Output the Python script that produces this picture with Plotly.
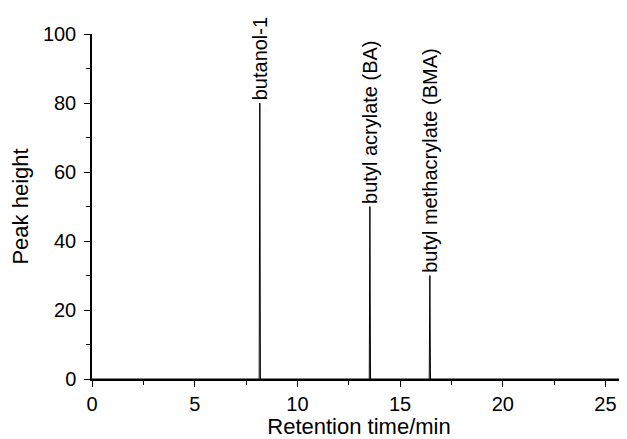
import plotly.graph_objects as go

# Chromatogram data (retention time in min, peak height)
peak_names = ["butanol-1", "butyl acrylate (BA)", "butyl methacrylate (BMA)"]
peak_times = [8.17, 13.53, 16.45]
peak_heights = [80, 50, 30]
half_width = 0.03
t_start, t_end = 0.0, 26.0
x_ticks = [0, 5, 10, 15, 20, 25]
y_ticks = [0, 20, 40, 60, 80, 100]

x_vals = [t_start]
y_vals = [0]
for t, h in zip(peak_times, peak_heights):
    x_vals += [t - half_width, t, t + half_width]
    y_vals += [0, h, 0]
x_vals.append(t_end)
y_vals.append(0)

fig = go.Figure()
fig.add_trace(go.Scatter(x=x_vals, y=y_vals, mode="lines",
                         line=dict(color="black", width=1), showlegend=False,
                         hoverinfo="skip"))

for name, t, h in zip(peak_names, peak_times, peak_heights):
    fig.add_annotation(x=t, y=h, text=name, textangle=-90, showarrow=False,
                       xanchor="center", yanchor="bottom", yshift=1,
                       font=dict(size=20, color="black"))

axis_common = dict(showline=True, linecolor="black", linewidth=1.5,
                   ticks="outside", ticklen=6, tickwidth=1.2, tickcolor="black",
                   showgrid=False, zeroline=False,
                   tickfont=dict(size=20, color="black"),
                   minor=dict(ticks="outside", ticklen=4, tickwidth=1.2, tickcolor="black"))

fig.update_xaxes(range=[t_start, t_end], tickvals=x_ticks,
                 minor_dtick=2.5,
                 title=dict(text="Retention time/min", font=dict(size=22, color="black"), standoff=2),
                 **axis_common)
fig.update_yaxes(range=[0, 100], tickvals=y_ticks,
                 minor_dtick=10, ticklabelstandoff=4,
                 title=dict(text="Peak height", font=dict(size=22, color="black"), standoff=8),
                 **axis_common)

fig.update_layout(width=619, height=431,
                  margin=dict(l=84, r=1, t=26, b=60),
                  plot_bgcolor="white", paper_bgcolor="white",
                  font=dict(family="Liberation Sans, Arial, sans-serif", color="black"))

fig.write_html("out.html")
